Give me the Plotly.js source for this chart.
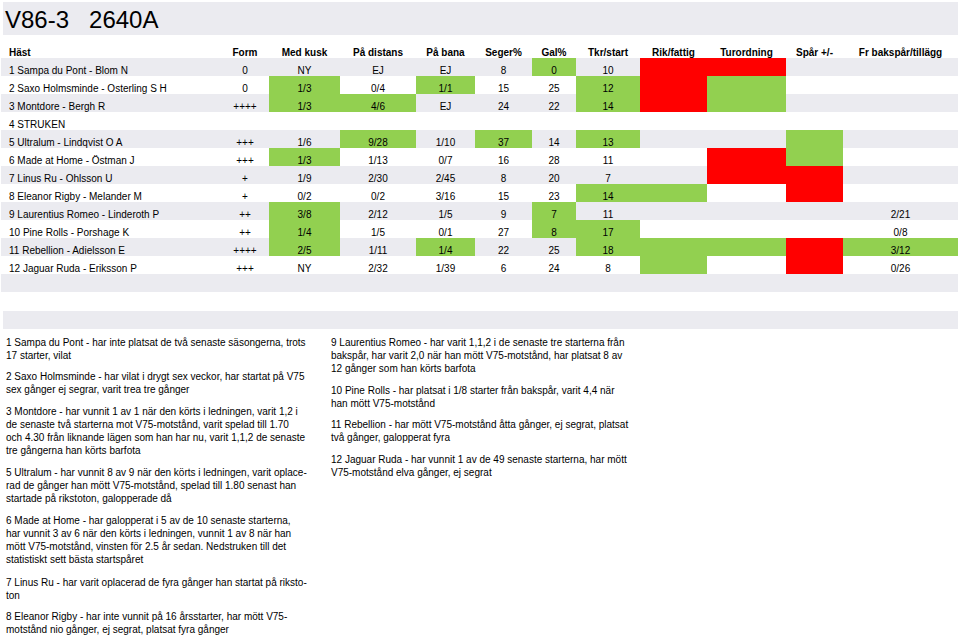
<!DOCTYPE html>
<html>
<head>
<meta charset="utf-8">
<script src="https://cdn.plot.ly/plotly-3.0.1.min.js"></script>
<style>
  html, body { margin: 0; padding: 0; background: #fff; }
  #chart { width: 960px; height: 635px; }
</style>
</head>
<body>
<div id="chart"></div>
<script>
/* =========================
   DATA
========================= */
const raceTitle = "V86-3\u00a0\u00a0\u00a02640A";

const headers = ["Häst", "Form", "Med kusk", "På distans", "På bana", "Seger%", "Gal%",
  "Tkr/start", "Rik/fattig", "Turordning", "Spår +/-", "Fr bakspår/tillägg"];

const horses = ["1 Sampa du Pont - Blom N", "2 Saxo Holmsminde - Osterling S H", "3 Montdore - Bergh R",
  "4 STRUKEN", "5 Ultralum - Lindqvist O A", "6 Made at Home - Östman J", "7 Linus Ru - Ohlsson U",
  "8 Eleanor Rigby - Melander M", "9 Laurentius Romeo - Linderoth P", "10 Pine Rolls - Porshage K",
  "11 Rebellion - Adielsson E", "12 Jaguar Ruda - Eriksson P"];
const form      = ["0", "0", "++++", "", "+++", "+++", "+", "+", "++", "++", "++++", "+++"];
const medKusk   = ["NY", "1/3", "1/3", "", "1/6", "1/3", "1/9", "0/2", "3/8", "1/4", "2/5", "NY"];
const paDistans = ["EJ", "0/4", "4/6", "", "9/28", "1/13", "2/30", "0/2", "2/12", "1/5", "1/11", "2/32"];
const paBana    = ["EJ", "1/1", "EJ", "", "1/10", "0/7", "2/45", "3/16", "1/5", "0/1", "1/4", "1/39"];
const segerPct  = ["8", "15", "24", "", "37", "16", "8", "15", "9", "27", "22", "6"];
const galPct    = ["0", "25", "22", "", "14", "28", "20", "23", "7", "8", "25", "24"];
const tkrStart  = ["10", "12", "14", "", "13", "11", "7", "14", "11", "17", "18", "8"];
const rikFattig = ["", "", "", "", "", "", "", "", "", "", "", ""];
const turordning = ["", "", "", "", "", "", "", "", "", "", "", ""];
const sparDiff  = ["", "", "", "", "", "", "", "", "", "", "", ""];
const frBakspar = ["", "", "", "", "", "", "", "", "2/21", "0/8", "3/12", "0/26"];

// g = green (good), r = red (bad), "" = none
const hastMark    = ["", "", "", "", "", "", "", "", "", "", "", ""];
const formMark    = ["", "", "", "", "", "", "", "", "", "", "", ""];
const kuskMark    = ["", "g", "g", "", "", "g", "", "", "g", "g", "g", ""];
const distansMark = ["", "", "g", "", "g", "", "", "", "", "", "", ""];
const banaMark    = ["", "g", "", "", "", "", "", "", "", "", "g", ""];
const segerMark   = ["", "", "", "", "g", "", "", "", "", "", "", ""];
const galMark     = ["g", "", "", "", "", "", "", "", "g", "g", "", ""];
const tkrMark     = ["", "g", "g", "", "g", "", "", "g", "", "g", "g", ""];
const rikMark     = ["r", "r", "r", "", "", "", "", "g", "", "", "g", "g"];
const turMark     = ["r", "g", "g", "", "", "r", "r", "", "", "", "g", ""];
const sparMark    = ["", "", "", "", "g", "g", "r", "r", "", "", "r", "r"];
const frMark      = ["", "", "", "", "", "", "", "", "", "", "g", ""];

const notesLeft = [
  ["1 Sampa du Pont - har inte platsat de två senaste säsongerna, trots", "17 starter, vilat"],
  ["2 Saxo Holmsminde - har vilat i drygt sex veckor, har startat på V75", "sex gånger ej segrar, varit trea tre gånger"],
  ["3 Montdore - har vunnit 1 av 1 när den körts i ledningen, varit 1,2 i",
   "de senaste två starterna mot V75-motstånd, varit spelad till 1.70",
   "och 4.30 från liknande lägen som han har nu, varit 1,1,2 de senaste",
   "tre gångerna han körts barfota"],
  ["5 Ultralum - har vunnit 8 av 9 när den körts i ledningen, varit oplace-",
   "rad de gånger han mött V75-motstånd, spelad till 1.80 senast han",
   "startade på rikstoton, galopperade då"],
  ["6 Made at Home - har galopperat i 5 av de 10 senaste starterna,",
   "har vunnit 3 av 6 när den körts i ledningen, vunnit 1 av 8 när han",
   "mött V75-motstånd, vinsten för 2.5 år sedan. Nedstruken till det",
   "statistiskt sett bästa startspåret"],
  ["7 Linus Ru - har varit oplacerad de fyra gånger han startat på riksto-", "ton"],
  ["8 Eleanor Rigby - har inte vunnit på 16 årsstarter, har mött V75-", "motstånd nio gånger, ej segrat, platsat fyra gånger"]
];
const notesRight = [
  ["9 Laurentius Romeo - har varit 1,1,2 i de senaste tre starterna från",
   "bakspår, har varit 2,0 när han mött V75-motstånd, har platsat 8 av",
   "12 gånger som han körts barfota"],
  ["10 Pine Rolls - har platsat i 1/8 starter från bakspår, varit 4,4 när", "han mött V75-motstånd"],
  ["11 Rebellion - har mött V75-motstånd åtta gånger, ej segrat, platsat", "två gånger, galopperat fyra"],
  ["12 Jaguar Ruda - har vunnit 1 av de 49 senaste starterna, har mött", "V75-motstånd elva gånger, ej segrat"]
];

/* =========================
   LAYOUT HELPERS
========================= */
const W = 960, H = 635;
const px = x => x / W;
const py = y => 1 - y / H;

const GRAY = "#ebebf0", GREEN = "#92d050", RED = "#ff0000", WHITE = "#ffffff";
const CLEAR = "rgba(0,0,0,0)";
const FONT = "Liberation Sans, Arial, sans-serif";

const colWidths = [220, 48, 71, 76, 59, 57, 44, 64, 67, 79, 57, 115];

// column titles go in the first body row (bold, white), then horse rows, then a blank gray row
const columns = [horses, form, medKusk, paDistans, paBana, segerPct, galPct,
  tkrStart, rikFattig, turordning, sparDiff, frBakspar]
  .map((col, c) => [headers[c]].concat(col, [""]));
const marks = [hastMark, formMark, kuskMark, distansMark, banaMark, segerMark, galMark,
  tkrMark, rikMark, turMark, sparMark, frMark].map(col => col.concat([""]));

const fills = marks.map(col => [WHITE].concat(col.map((m, i) =>
  m === "g" ? GREEN : m === "r" ? RED : (i % 2 === 0 ? GRAY : WHITE))));
const weights = columns.map(col => col.map((v, i) => i === 0 ? "bold" : "normal"));

const aligns = headers.map((h, i) => i === 0 ? "left" : "center");
const textFont = { family: FONT, size: 10, color: "#000" };

const table = {
  type: "table",
  domain: { x: [px(1), px(958)], y: [py(300), py(35)] },
  columnwidth: colWidths,
  header: {
    values: headers.map(() => ""),
    fill: { color: CLEAR },
    line: { width: 0, color: CLEAR },
    height: 5
  },
  cells: {
    values: columns,
    align: aligns,
    fill: { color: fills },
    line: { width: 0, color: WHITE },
    font: { family: FONT, size: 10, color: "#000", weight: weights },
    height: 18
  }
};

/* =========================
   NOTES
========================= */
const lineH = 13.5, paraGap = 7.5;
function noteAnnotations(notes, x, firstLine) {
  let y = firstLine;
  return notes.map(lines => {
    const a = {
      xref: "paper", yref: "paper", x: px(x), y: py(y - 7.5),
      xanchor: "left", yanchor: "top", align: "left", showarrow: false,
      text: lines.join("<br>"),
      font: textFont
    };
    y += lines.length * lineH + paraGap;
    return a;
  });
}

const annotations = [
  {
    xref: "paper", yref: "paper", x: px(3), y: py(20), xanchor: "left", yanchor: "middle",
    showarrow: false, text: raceTitle,
    font: { family: FONT, size: 24, color: "#000" }
  },
  ...noteAnnotations(notesLeft, 4, 342),
  ...noteAnnotations(notesRight, 329, 342)
];

const shapes = [
  { type: "rect", xref: "paper", yref: "paper", x0: px(3), x1: px(958), y0: py(35), y1: py(2),
    fillcolor: GRAY, line: { width: 0 }, layer: "below" },
  { type: "rect", xref: "paper", yref: "paper", x0: px(3), x1: px(958), y0: py(329), y1: py(311),
    fillcolor: GRAY, line: { width: 0 }, layer: "below" }
];

Plotly.newPlot("chart", [table], {
  width: W,
  height: H,
  margin: { t: 0, r: 0, b: 0, l: 0 },
  paper_bgcolor: WHITE,
  plot_bgcolor: WHITE,
  font: textFont,
  annotations: annotations,
  shapes: shapes
}, { displayModeBar: false, staticPlot: true });
</script>
</body>
</html>
